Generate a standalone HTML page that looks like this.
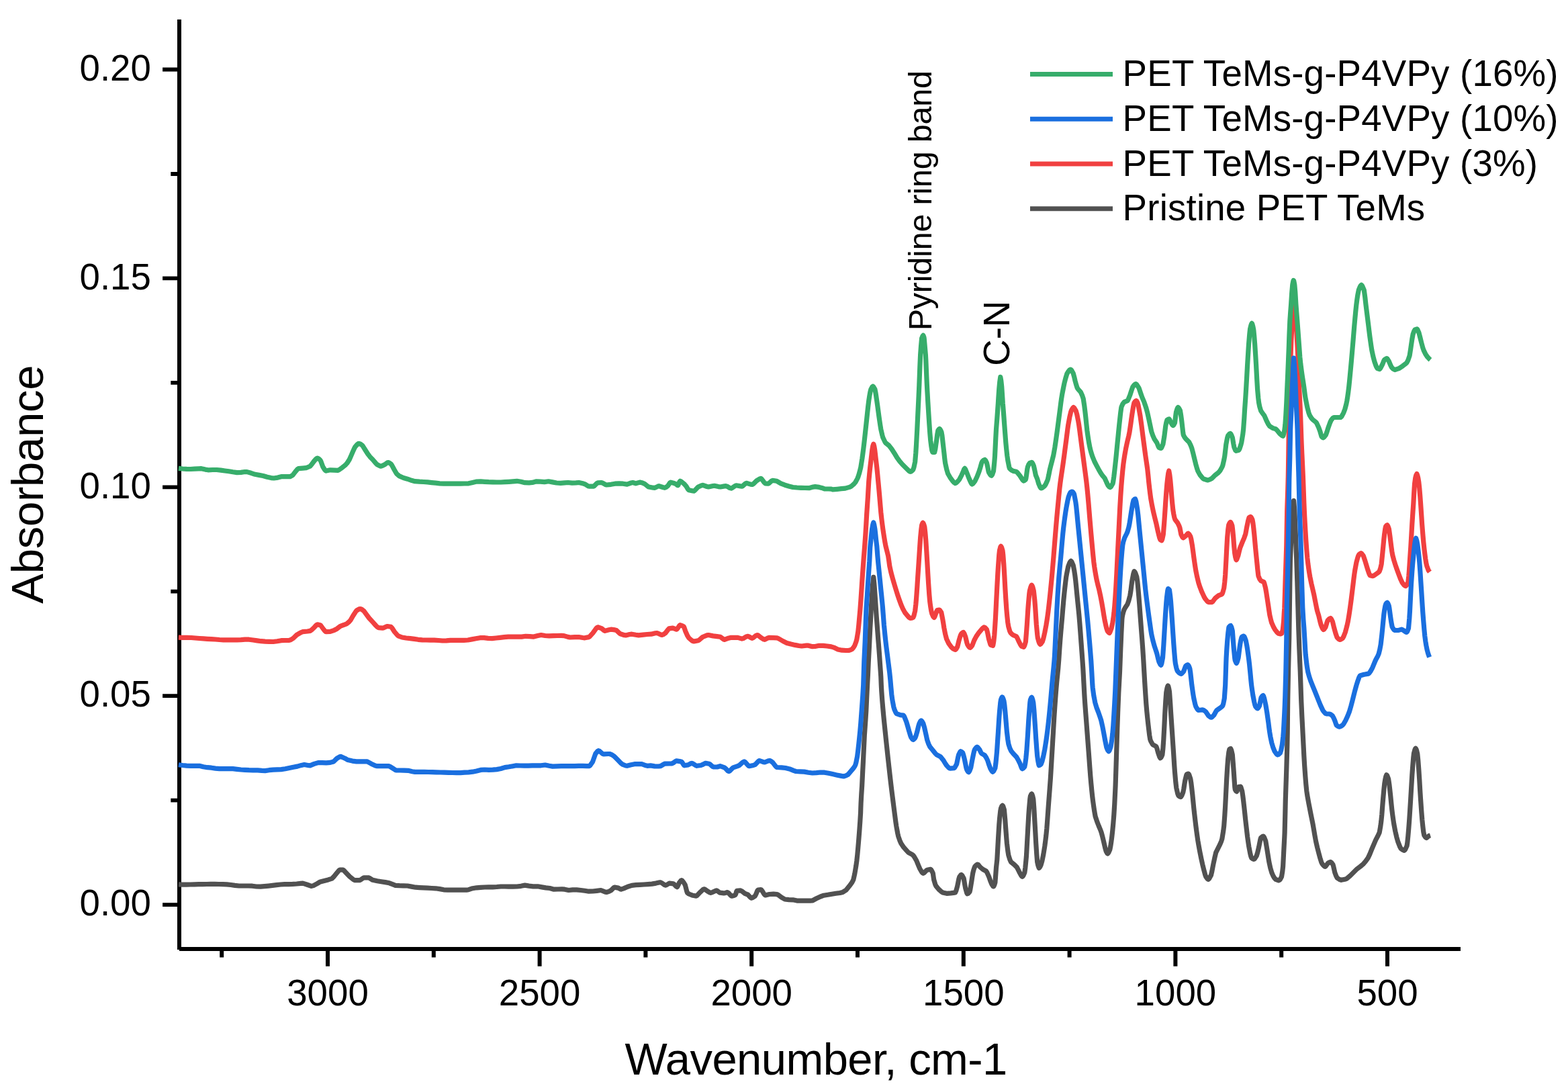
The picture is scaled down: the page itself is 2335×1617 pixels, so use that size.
<!DOCTYPE html>
<html lang="en">
<head>
<meta charset="utf-8">
<title>FTIR spectra of PET TeMs-g-P4VPy</title>
<style>
html,body{margin:0;padding:0;background:#fff;}
body{width:2335px;height:1617px;overflow:hidden;}
svg{display:block;}
text{font-family:"Liberation Sans",sans-serif;fill:#000;}
.tick{font-size:54.65px;}
.leg{font-size:54.65px;letter-spacing:0.2px;}
.axt{font-size:67px;}
.curve{fill:none;stroke-width:7.2;stroke-linejoin:round;stroke-linecap:butt;}
.ax{stroke:#000;stroke-width:6;fill:none;stroke-linecap:butt;}
</style>
</head>
<body>
<svg width="2335" height="1617" viewBox="0 0 2335 1617" role="img" aria-label="FTIR absorbance spectra of pristine and P4VPy-grafted PET track-etched membranes">
<rect width="2335" height="1617" fill="#fff"/>
<g id="axes">
<line class="ax" x1="267.0" y1="29" x2="267.0" y2="1413.9"/>
<line class="ax" x1="267.0" y1="1412.9" x2="2175" y2="1412.9"/>
<path class="ax" style="stroke-width:5.8" d="M242.1 1347.1H267.0M242.1 1036.2H267.0M242.1 725.3H267.0M242.1 414.4H267.0M242.1 103.5H267.0M254.3 1191.6H267.0M254.3 880.7H267.0M254.3 569.9H267.0M254.3 259.0H267.0"/>
<path class="ax" d="M488.0 1412.9V1438.8M803.6 1412.9V1438.8M1119.2 1412.9V1438.8M1434.8 1412.9V1438.8M1750.4 1412.9V1438.8M2066.0 1412.9V1438.8M330.2 1412.9V1425.6M645.8 1412.9V1425.6M961.4 1412.9V1425.6M1277.0 1412.9V1425.6M1592.6 1412.9V1425.6M1908.2 1412.9V1425.6"/>
</g>
<g id="curves">
<polyline class="curve" stroke="#515151" points="265.8,1316.9 271.8,1317.2 277.8,1317.1 283.8,1317.0 289.8,1316.9 295.8,1316.7 301.8,1316.6 307.8,1316.5 313.8,1316.4 319.8,1316.4 325.8,1316.5 331.8,1316.6 337.8,1316.8 343.8,1317.5 349.8,1318.4 355.8,1319.0 362.8,1319.0 369.8,1319.0 375.8,1319.2 381.8,1320.0 387.8,1320.2 393.8,1319.7 399.8,1319.1 405.8,1318.4 411.8,1317.7 417.8,1317.0 423.8,1316.7 429.8,1316.6 435.8,1316.4 441.8,1316.0 447.8,1315.3 450.9,1315.1 456.8,1317.0 462.8,1319.2 463.9,1319.4 466.8,1318.6 472.8,1315.4 476.9,1312.9 482.8,1311.4 488.8,1309.9 494.3,1308.1 496.8,1305.7 500.8,1300.8 504.8,1296.0 506.2,1295.1 510.8,1295.2 511.8,1295.8 516.0,1300.3 520.8,1305.3 525.8,1309.3 527.8,1310.4 529.0,1310.7 535.5,1310.7 536.8,1310.2 540.8,1307.3 542.0,1306.8 548.5,1306.8 549.8,1307.2 555.0,1310.3 561.8,1311.7 567.8,1312.7 573.8,1313.6 579.8,1314.8 585.8,1317.2 588.8,1318.4 594.8,1318.7 600.8,1318.8 606.8,1319.0 612.8,1320.1 618.8,1321.2 624.8,1321.6 630.8,1321.9 636.8,1322.2 642.8,1322.5 648.8,1322.8 654.8,1323.6 660.8,1324.8 666.8,1325.1 673.8,1325.1 680.8,1325.1 687.8,1325.1 694.8,1325.1 697.8,1324.7 703.8,1322.7 709.8,1321.8 715.8,1321.3 721.8,1321.0 727.8,1320.9 733.8,1320.8 739.8,1320.5 745.8,1320.0 751.8,1320.0 757.8,1320.2 763.8,1320.2 769.8,1320.0 775.8,1319.3 781.7,1318.1 787.8,1319.1 793.8,1319.8 800.8,1319.8 806.8,1320.9 812.8,1321.9 818.8,1322.5 824.8,1324.2 830.8,1324.0 836.8,1323.8 840.8,1324.2 846.8,1325.5 852.8,1324.8 858.8,1324.8 864.8,1325.5 870.8,1326.3 876.8,1327.2 882.8,1327.0 888.8,1326.3 894.8,1325.5 900.8,1327.9 903.2,1328.5 906.8,1327.4 909.8,1325.8 913.8,1321.9 915.1,1321.1 920.8,1322.1 923.8,1323.8 924.9,1324.2 928.8,1322.9 934.8,1320.3 940.8,1318.4 946.8,1317.7 952.8,1317.4 958.8,1317.0 964.8,1316.6 970.8,1316.1 976.8,1315.1 982.8,1313.8 983.8,1313.9 985.8,1314.9 989.8,1317.7 991.0,1318.1 992.8,1317.5 996.8,1315.2 1002.8,1315.9 1003.8,1316.5 1006.8,1319.7 1008.4,1320.7 1008.8,1320.3 1011.6,1314.2 1013.8,1311.4 1014.9,1310.7 1015.8,1311.2 1017.8,1313.5 1020.3,1317.7 1022.8,1327.4 1023.6,1329.4 1025.8,1331.0 1031.8,1333.3 1036.8,1334.1 1037.8,1333.6 1042.8,1328.3 1046.8,1324.6 1048.5,1323.8 1049.8,1324.2 1054.8,1327.7 1056.8,1328.9 1058.3,1329.4 1060.8,1328.6 1065.8,1326.2 1066.9,1325.9 1067.8,1326.2 1071.8,1329.2 1077.8,1329.8 1079.8,1329.6 1083.2,1328.5 1084.8,1329.5 1087.8,1332.9 1088.8,1333.7 1089.8,1334.2 1092.8,1333.5 1095.1,1332.4 1095.8,1330.8 1096.8,1327.3 1097.3,1326.4 1102.8,1325.9 1104.8,1326.9 1109.2,1330.3 1113.8,1332.2 1117.8,1336.5 1119.0,1337.2 1120.8,1336.6 1124.4,1334.2 1125.8,1331.4 1127.8,1326.4 1128.8,1325.0 1133.1,1324.6 1133.8,1325.0 1134.8,1326.2 1137.8,1331.1 1138.8,1332.3 1139.8,1332.9 1145.8,1331.5 1151.8,1331.2 1157.0,1331.6 1158.8,1332.4 1163.8,1336.1 1168.8,1339.0 1174.8,1339.6 1180.8,1339.8 1186.8,1341.1 1192.8,1341.1 1199.8,1341.1 1206.8,1341.1 1209.8,1341.0 1215.8,1337.8 1221.8,1335.0 1226.8,1333.2 1232.8,1332.3 1238.8,1331.2 1244.8,1330.3 1250.8,1329.5 1255.0,1328.4 1260.0,1325.3 1264.8,1319.3 1268.8,1313.8 1270.8,1309.9 1272.8,1301.0 1274.8,1289.2 1275.8,1282.0 1276.8,1272.9 1277.8,1261.8 1278.8,1249.9 1279.8,1237.1 1280.8,1223.1 1281.6,1210.0 1281.8,1203.7 1282.1,1195.4 1282.8,1182.8 1283.6,1170.4 1284.8,1146.3 1285.5,1132.8 1285.8,1126.0 1286.8,1105.5 1287.3,1095.2 1287.8,1088.0 1288.8,1073.8 1289.8,1058.5 1290.8,1036.4 1291.8,1016.4 1292.4,1005.4 1292.8,995.9 1293.2,986.6 1293.8,975.3 1294.5,961.6 1294.8,954.8 1295.4,942.8 1295.8,934.5 1296.4,924.0 1296.8,915.8 1297.4,905.2 1297.8,897.6 1298.2,890.2 1298.8,881.4 1299.5,871.4 1300.8,859.4 1301.8,868.9 1302.6,880.1 1303.8,897.6 1304.8,912.8 1305.8,926.1 1306.6,936.5 1307.8,952.4 1308.8,965.0 1309.5,974.1 1310.8,992.9 1311.8,1007.4 1312.3,1020.0 1312.8,1029.3 1313.8,1043.2 1314.8,1054.8 1315.8,1065.8 1316.8,1075.9 1317.8,1085.6 1318.8,1095.2 1319.8,1104.8 1320.8,1114.2 1321.8,1123.5 1322.8,1132.7 1323.8,1141.7 1324.8,1150.6 1325.8,1159.5 1326.8,1168.1 1327.8,1176.4 1328.8,1184.4 1329.8,1192.3 1330.8,1200.1 1331.8,1207.9 1332.8,1215.6 1333.8,1223.3 1334.8,1230.1 1336.8,1241.0 1337.8,1245.4 1339.8,1251.2 1341.8,1255.7 1345.8,1261.7 1350.0,1266.4 1352.8,1269.4 1358.8,1272.7 1359.8,1273.5 1361.8,1276.2 1364.8,1281.5 1367.8,1288.9 1369.8,1293.5 1372.8,1298.6 1373.8,1299.8 1374.8,1300.3 1375.8,1299.8 1379.8,1295.9 1380.8,1295.3 1385.8,1294.4 1386.8,1295.3 1387.8,1297.0 1389.3,1300.3 1390.7,1309.9 1392.8,1316.9 1393.8,1319.1 1397.8,1324.0 1401.8,1327.7 1403.8,1328.9 1409.8,1330.3 1415.8,1329.9 1421.8,1329.1 1422.6,1328.9 1423.8,1326.3 1425.6,1319.9 1426.8,1314.0 1427.8,1308.9 1428.8,1305.6 1430.8,1302.8 1431.6,1302.4 1432.8,1303.4 1435.2,1307.9 1436.8,1317.5 1437.8,1322.8 1439.8,1329.7 1440.6,1330.9 1441.8,1330.3 1444.0,1327.9 1444.8,1324.5 1445.8,1318.5 1446.8,1312.4 1447.8,1305.8 1448.8,1299.7 1449.8,1295.6 1450.8,1292.5 1451.9,1290.0 1453.8,1288.1 1454.8,1287.4 1455.9,1287.0 1456.8,1287.6 1459.8,1291.2 1463.8,1294.5 1468.5,1297.0 1469.8,1299.0 1472.5,1304.9 1474.8,1311.6 1476.8,1316.5 1478.8,1319.5 1479.5,1319.9 1479.8,1319.6 1480.8,1317.6 1481.9,1313.9 1482.8,1301.8 1483.5,1292.0 1484.8,1280.1 1485.8,1262.3 1486.5,1249.5 1487.8,1228.2 1488.5,1219.5 1489.8,1207.4 1490.5,1203.6 1491.8,1200.4 1492.8,1199.2 1493.8,1200.5 1495.4,1205.6 1496.8,1220.9 1497.4,1229.5 1498.8,1247.9 1499.4,1255.4 1500.8,1266.9 1501.8,1273.3 1503.8,1279.8 1505.4,1283.4 1510.4,1287.4 1514.4,1291.4 1517.8,1298.2 1520.8,1303.7 1521.8,1304.9 1522.4,1305.3 1522.8,1305.1 1523.8,1303.8 1525.8,1299.2 1526.8,1292.2 1527.8,1281.9 1528.4,1275.4 1528.8,1268.8 1529.8,1250.1 1530.4,1239.5 1530.8,1231.8 1531.8,1214.1 1532.4,1205.6 1533.8,1189.5 1534.4,1185.6 1535.8,1182.5 1536.4,1182.0 1536.8,1182.6 1537.8,1185.5 1538.8,1190.0 1539.8,1203.4 1540.7,1219.5 1541.8,1238.7 1542.7,1255.4 1543.8,1272.2 1544.7,1283.4 1545.8,1288.4 1546.8,1291.5 1547.3,1292.4 1547.8,1292.0 1548.8,1290.6 1550.3,1287.4 1551.8,1282.0 1553.8,1272.2 1555.8,1259.7 1556.8,1252.2 1557.8,1244.0 1558.8,1233.8 1559.8,1220.6 1560.8,1206.4 1561.3,1199.6 1561.8,1193.0 1562.8,1180.0 1563.8,1166.6 1564.3,1159.7 1564.8,1151.7 1565.8,1135.1 1566.8,1118.0 1567.3,1109.8 1567.8,1101.1 1568.8,1084.0 1569.8,1067.4 1570.3,1059.9 1570.8,1052.4 1571.8,1038.6 1572.8,1025.7 1573.8,1014.4 1574.8,1004.7 1575.8,994.5 1576.8,981.8 1577.8,966.2 1578.3,959.4 1578.8,952.7 1579.8,940.8 1580.8,929.4 1581.7,919.5 1582.8,906.0 1583.8,894.4 1584.8,884.2 1585.8,874.8 1586.8,866.1 1587.6,859.7 1588.8,852.9 1590.8,843.2 1592.8,838.1 1593.8,836.3 1594.8,835.3 1595.8,836.3 1598.2,841.7 1599.8,849.9 1600.8,856.7 1601.8,864.8 1602.8,874.9 1603.8,885.4 1604.8,895.4 1605.8,905.1 1606.8,915.2 1607.8,927.0 1608.8,940.3 1609.8,954.1 1610.8,967.6 1611.8,981.1 1612.8,995.4 1613.8,1014.1 1614.8,1033.3 1615.2,1039.9 1615.8,1048.8 1616.8,1062.1 1617.8,1074.9 1618.8,1088.2 1619.8,1101.5 1620.8,1114.8 1621.8,1128.3 1622.8,1142.1 1623.8,1155.2 1624.8,1166.6 1625.8,1177.0 1626.8,1186.5 1627.8,1194.4 1628.8,1201.6 1629.8,1208.2 1631.1,1215.5 1633.8,1223.6 1636.1,1229.5 1638.8,1235.9 1640.1,1239.5 1641.8,1245.8 1643.8,1254.2 1645.8,1262.7 1647.1,1267.4 1648.8,1270.4 1649.5,1271.0 1650.8,1269.6 1652.8,1265.0 1653.8,1260.0 1654.8,1253.4 1655.8,1245.8 1656.8,1236.7 1657.8,1225.9 1658.8,1213.4 1659.8,1197.0 1660.8,1176.1 1661.1,1169.6 1661.8,1148.3 1662.7,1119.7 1663.8,1084.1 1664.3,1069.8 1664.8,1055.9 1665.8,1031.5 1666.8,1012.7 1667.5,1000.0 1667.8,992.0 1668.8,965.9 1669.1,959.4 1669.8,942.5 1670.8,922.7 1671.1,919.5 1671.8,915.5 1672.8,911.4 1674.1,907.5 1675.8,904.5 1679.0,899.6 1680.8,894.4 1682.8,886.6 1683.8,880.6 1684.8,872.6 1685.8,865.1 1687.8,854.3 1689.0,850.7 1689.8,851.4 1690.8,853.3 1692.8,859.0 1693.8,865.5 1694.8,875.9 1695.8,887.5 1696.8,899.8 1697.8,913.4 1698.8,927.1 1699.8,940.2 1700.8,953.3 1701.8,966.9 1702.8,982.8 1703.8,1000.2 1704.8,1017.2 1705.8,1033.1 1706.8,1047.7 1707.8,1059.2 1708.8,1069.2 1709.8,1078.4 1710.8,1086.9 1711.8,1095.0 1712.8,1101.1 1713.8,1103.8 1715.8,1107.3 1716.9,1108.8 1720.8,1110.9 1721.9,1111.8 1722.8,1114.0 1724.8,1121.4 1726.8,1127.0 1727.9,1128.7 1728.8,1128.0 1729.8,1126.4 1730.9,1123.7 1731.8,1115.4 1732.8,1101.3 1733.8,1082.5 1734.8,1061.7 1735.8,1044.5 1736.8,1030.8 1737.8,1025.3 1738.8,1021.8 1739.3,1021.0 1739.8,1021.9 1740.8,1026.1 1741.5,1029.9 1742.8,1048.6 1743.5,1059.9 1744.8,1079.6 1745.5,1089.8 1746.8,1109.6 1747.5,1119.7 1748.8,1140.3 1749.5,1149.7 1750.8,1164.5 1751.8,1173.2 1753.8,1181.9 1754.9,1184.6 1756.8,1186.1 1758.3,1186.6 1758.8,1186.2 1759.8,1184.6 1761.8,1179.6 1762.8,1174.6 1763.8,1167.9 1764.8,1161.8 1766.8,1154.0 1767.4,1152.7 1769.8,1152.1 1770.8,1153.5 1772.8,1159.6 1773.8,1165.9 1774.8,1174.3 1775.8,1183.2 1776.8,1193.4 1777.8,1203.5 1778.8,1212.5 1779.8,1221.2 1780.8,1229.5 1781.8,1237.2 1782.8,1244.6 1783.8,1251.5 1784.8,1257.4 1786.8,1268.3 1788.8,1278.2 1790.8,1287.3 1792.8,1295.4 1794.8,1302.8 1795.8,1305.4 1797.8,1308.2 1798.8,1309.1 1799.4,1309.3 1800.8,1308.0 1803.4,1303.3 1804.8,1297.4 1806.7,1287.4 1808.8,1277.4 1810.7,1269.4 1813.8,1263.1 1816.8,1257.1 1818.8,1252.3 1819.8,1249.1 1821.8,1236.9 1822.7,1229.5 1823.8,1214.5 1824.7,1199.6 1825.8,1177.6 1826.7,1159.7 1827.8,1141.7 1828.7,1129.7 1829.8,1120.3 1830.8,1115.7 1831.8,1115.0 1832.7,1114.7 1833.8,1117.2 1835.3,1123.7 1836.8,1143.0 1837.3,1149.7 1837.8,1157.3 1838.8,1171.7 1839.3,1175.6 1840.8,1178.0 1841.7,1178.6 1842.8,1176.3 1843.8,1173.3 1844.8,1171.6 1847.3,1171.2 1847.8,1171.9 1849.8,1178.4 1850.8,1185.2 1851.8,1193.5 1852.8,1202.3 1853.8,1211.7 1854.6,1219.5 1855.8,1229.9 1856.8,1238.6 1857.6,1245.5 1858.8,1253.9 1859.8,1260.6 1861.8,1271.1 1862.8,1275.2 1863.8,1277.6 1865.8,1278.9 1867.2,1279.4 1867.8,1279.1 1868.8,1278.1 1871.2,1274.4 1872.8,1269.1 1874.6,1261.4 1875.8,1255.2 1876.8,1250.1 1877.6,1247.5 1879.8,1245.6 1881.2,1245.1 1881.8,1245.6 1882.8,1247.2 1884.8,1252.4 1886.8,1264.5 1887.8,1270.8 1888.8,1277.1 1889.8,1283.3 1891.8,1292.4 1893.8,1299.3 1895.8,1303.9 1897.8,1307.3 1899.8,1309.4 1903.8,1310.8 1904.8,1310.8 1905.8,1310.0 1906.8,1308.7 1908.5,1305.3 1909.8,1297.3 1910.6,1290.0 1911.8,1266.0 1912.8,1246.9 1913.1,1240.4 1913.8,1212.3 1914.3,1190.3 1914.8,1175.5 1915.8,1145.6 1916.8,1110.3 1917.2,1090.0 1917.6,1050.4 1917.8,1036.5 1918.5,1000.3 1918.8,986.8 1919.7,950.1 1920.4,900.0 1920.6,885.4 1920.8,868.1 1921.4,835.3 1921.8,825.3 1922.8,801.7 1923.8,783.8 1924.8,768.3 1925.4,760.1 1925.8,753.9 1926.6,745.5 1927.8,759.1 1928.6,778.9 1929.4,797.7 1929.8,809.4 1930.3,821.5 1930.8,833.5 1931.8,864.8 1932.4,885.4 1932.8,900.0 1933.8,935.8 1934.3,950.1 1934.8,964.3 1935.8,988.5 1936.3,1000.3 1936.8,1015.6 1937.8,1044.7 1938.8,1066.6 1939.8,1085.7 1940.8,1105.4 1941.8,1125.1 1942.7,1140.1 1943.8,1155.6 1944.8,1167.7 1945.8,1177.7 1946.8,1184.5 1948.8,1195.6 1950.2,1202.8 1951.8,1211.0 1953.8,1220.8 1955.2,1227.8 1956.8,1237.1 1957.8,1243.1 1959.6,1252.9 1961.8,1262.4 1963.8,1270.2 1965.8,1277.5 1967.8,1284.0 1968.8,1286.0 1970.8,1288.5 1972.8,1290.2 1973.4,1290.4 1973.8,1290.1 1974.8,1289.0 1977.4,1285.4 1979.8,1283.9 1981.4,1283.4 1982.8,1284.4 1985.0,1287.4 1985.8,1290.4 1987.8,1299.3 1989.8,1304.6 1991.3,1307.3 1994.8,1309.5 1997.3,1310.3 2003.8,1308.9 2005.8,1308.1 2010.8,1303.8 2015.8,1298.8 2020.8,1293.8 2025.8,1290.1 2029.8,1286.8 2033.8,1282.2 2037.2,1277.4 2039.8,1271.9 2042.8,1264.4 2045.8,1257.3 2048.8,1250.4 2051.8,1244.8 2054.2,1239.5 2055.8,1230.4 2056.8,1222.8 2057.8,1212.8 2058.8,1199.6 2059.6,1189.6 2060.8,1176.2 2061.8,1166.6 2062.8,1160.5 2063.8,1156.1 2064.8,1153.7 2065.8,1155.0 2067.6,1159.7 2068.8,1167.7 2069.8,1176.4 2070.8,1185.7 2071.8,1196.1 2072.8,1205.6 2073.8,1213.6 2074.8,1220.8 2075.8,1227.3 2077.8,1237.7 2079.8,1246.4 2081.8,1253.4 2084.8,1261.1 2086.1,1263.4 2088.8,1265.5 2091.1,1266.4 2091.8,1265.9 2092.8,1264.6 2095.1,1259.4 2095.8,1254.9 2096.8,1245.0 2097.8,1233.2 2098.8,1219.8 2099.8,1204.2 2100.7,1189.6 2101.8,1170.9 2102.8,1154.2 2103.8,1140.2 2104.8,1127.8 2105.5,1121.7 2106.8,1116.8 2107.8,1114.5 2108.1,1114.2 2108.8,1115.2 2109.8,1118.2 2110.8,1122.5 2111.8,1132.7 2112.8,1146.0 2113.8,1161.2 2114.8,1178.6 2115.5,1189.6 2116.8,1208.2 2117.8,1220.6 2118.8,1230.3 2119.8,1238.7 2120.8,1243.7 2122.8,1246.6 2124.1,1247.5 2124.8,1247.1 2128.0,1244.5 2130.0,1243.9"/>
<polyline class="curve" stroke="#F14040" points="265.8,949.1 271.8,949.4 278.8,949.4 284.8,949.5 290.8,950.0 296.8,950.5 302.8,950.9 308.8,951.3 314.8,951.6 320.8,952.0 326.8,952.5 332.8,952.8 338.8,952.9 345.8,952.9 352.8,952.9 358.8,952.7 364.8,952.2 370.8,952.2 376.8,953.0 382.8,953.9 388.8,954.7 394.8,955.1 400.8,955.3 406.8,955.5 412.8,954.7 418.8,953.7 424.8,953.5 430.8,953.3 432.8,952.8 436.8,950.3 441.8,945.4 447.8,941.8 450.9,940.7 457.8,940.0 461.8,939.4 463.8,938.1 467.8,934.4 470.8,931.0 471.8,930.2 472.8,929.9 476.9,930.7 477.8,931.5 481.8,937.0 483.8,939.4 484.8,940.3 485.8,940.7 491.8,940.3 497.8,938.3 501.8,936.2 506.8,932.3 512.8,930.2 516.0,929.0 519.8,925.9 521.8,923.7 525.8,916.8 529.8,910.6 531.1,909.0 534.8,906.9 536.8,906.5 538.8,907.4 542.0,909.9 545.8,915.1 549.8,920.5 554.8,925.9 559.8,931.5 561.8,933.5 563.8,934.7 569.8,935.1 570.8,935.0 575.8,932.7 576.8,932.5 582.1,933.3 583.8,935.0 587.5,940.7 591.8,945.8 593.0,946.8 598.8,949.0 604.8,950.0 610.8,950.6 616.8,951.4 622.8,952.3 628.8,952.9 634.8,953.0 640.8,953.1 646.8,953.2 652.8,953.5 658.8,954.0 664.8,953.9 670.8,953.4 676.8,953.3 683.8,953.3 690.8,953.3 696.8,953.0 702.8,951.9 708.8,950.8 714.8,949.7 720.8,949.6 726.8,950.4 732.8,950.6 738.8,950.0 744.8,949.3 750.8,948.7 756.8,948.2 762.8,948.1 769.8,948.1 776.8,948.1 782.8,947.3 788.8,947.6 794.8,948.1 800.8,946.6 805.8,945.5 811.8,946.5 817.8,946.8 823.8,946.6 829.8,946.5 835.8,946.4 839.8,946.6 845.8,948.4 848.9,949.0 855.8,948.7 861.8,948.5 867.8,949.5 870.8,949.8 876.8,948.6 877.8,948.1 882.8,942.6 886.8,937.1 888.8,934.6 890.2,933.8 895.8,935.6 899.8,938.9 901.0,939.4 906.8,937.8 909.8,937.2 915.8,937.9 917.8,938.4 922.8,943.1 923.8,943.8 929.8,945.7 931.8,945.9 937.8,944.5 940.8,944.2 946.8,945.3 950.9,945.9 957.8,945.1 963.8,944.5 969.8,944.2 975.8,942.8 978.0,942.5 980.8,943.4 984.8,945.3 985.8,945.5 987.8,944.7 991.0,942.5 994.8,937.5 996.4,935.9 1001.9,935.1 1007.3,937.2 1007.8,937.0 1008.8,935.9 1011.8,931.4 1012.8,930.7 1015.8,931.6 1018.1,932.9 1018.8,934.1 1020.8,940.0 1023.8,946.7 1025.8,949.9 1029.8,953.4 1031.8,954.6 1033.3,955.0 1039.8,953.7 1041.8,952.4 1046.3,948.5 1052.8,945.9 1055.0,945.5 1061.8,946.9 1067.8,947.6 1072.8,948.3 1077.8,952.0 1078.9,952.4 1084.8,950.2 1087.8,949.4 1094.8,949.4 1098.8,949.4 1104.8,951.1 1106.8,950.6 1111.8,947.7 1113.8,947.3 1115.8,948.1 1118.8,949.9 1120.1,950.3 1121.8,949.5 1125.8,946.3 1127.8,945.5 1128.8,945.9 1133.8,949.8 1136.8,951.8 1138.8,952.4 1143.8,949.8 1145.0,949.4 1151.8,949.6 1157.0,949.8 1159.8,951.0 1165.8,954.5 1171.8,957.5 1177.8,959.1 1183.8,960.4 1189.8,961.5 1193.8,962.0 1200.8,961.2 1203.8,961.2 1209.8,962.7 1213.8,962.5 1219.8,961.3 1225.8,961.3 1231.8,962.0 1237.8,962.9 1241.8,964.1 1247.8,966.9 1253.8,968.2 1259.8,968.5 1263.8,968.5 1266.8,967.6 1268.8,966.6 1270.8,964.3 1272.8,961.1 1274.8,955.8 1275.8,952.3 1277.8,940.4 1278.8,930.9 1279.4,924.0 1280.8,908.6 1281.8,895.2 1282.8,880.6 1283.8,865.1 1284.5,855.1 1285.8,837.1 1286.3,830.0 1286.8,824.0 1287.8,811.0 1288.8,797.3 1289.8,780.9 1290.7,765.3 1291.8,748.9 1292.4,740.3 1292.8,732.7 1293.8,716.0 1294.8,705.2 1295.7,696.4 1296.8,687.1 1297.6,680.1 1298.8,669.8 1299.8,664.1 1300.8,661.1 1301.8,664.6 1302.8,670.6 1303.8,679.4 1304.8,687.9 1305.8,696.4 1306.8,706.5 1307.6,715.2 1308.8,727.8 1309.8,739.1 1310.8,751.1 1311.8,762.9 1312.8,772.1 1313.8,780.2 1314.8,787.8 1315.8,794.6 1316.8,800.9 1317.8,806.9 1318.9,812.9 1320.8,820.3 1322.7,828.0 1323.8,835.5 1324.8,842.7 1326.8,852.0 1328.8,859.5 1330.8,866.6 1332.8,873.3 1334.8,879.8 1336.8,886.1 1338.8,892.0 1341.8,900.3 1344.8,907.1 1347.8,912.4 1351.8,917.3 1353.8,919.4 1354.8,920.1 1355.8,920.5 1358.8,919.9 1359.8,919.4 1360.8,917.3 1362.7,909.5 1363.8,900.1 1364.7,889.6 1365.8,874.0 1366.7,859.7 1367.8,843.5 1368.7,829.7 1369.8,812.8 1370.7,799.8 1371.8,788.5 1372.7,781.8 1373.8,779.0 1374.3,778.4 1374.8,778.9 1375.8,781.0 1376.8,784.4 1377.8,793.3 1378.7,803.8 1379.8,820.7 1380.7,835.7 1381.8,854.9 1382.7,869.6 1383.8,885.3 1384.7,895.6 1385.8,903.7 1386.8,909.7 1387.8,913.8 1389.8,918.2 1391.1,919.5 1391.8,918.5 1394.8,910.3 1395.8,908.5 1398.8,908.0 1399.8,908.8 1401.8,912.0 1403.8,922.2 1404.8,928.1 1405.8,934.6 1407.8,944.7 1409.6,951.5 1412.8,958.1 1416.8,963.6 1418.8,965.5 1421.8,967.2 1422.8,967.3 1423.8,966.4 1425.8,962.9 1427.8,954.6 1429.8,947.7 1430.8,945.0 1431.8,943.3 1433.8,941.7 1434.6,941.5 1435.8,943.1 1437.8,948.2 1439.8,956.9 1440.8,959.9 1442.8,963.0 1443.8,964.0 1444.6,964.4 1445.8,963.6 1447.8,961.0 1450.8,953.2 1453.8,947.6 1457.8,941.8 1461.8,937.2 1463.8,935.0 1464.8,934.2 1465.5,933.9 1466.8,934.5 1469.5,937.5 1470.8,942.8 1472.5,951.5 1474.8,959.2 1475.5,960.4 1478.5,961.4 1478.8,960.6 1479.8,954.8 1480.8,945.8 1481.8,930.8 1482.5,919.5 1482.8,913.4 1483.8,893.0 1484.5,879.6 1484.8,873.3 1485.8,854.7 1486.5,843.7 1487.8,825.8 1488.5,819.7 1489.8,814.5 1490.5,813.4 1490.8,813.7 1491.8,815.7 1493.0,819.7 1493.8,826.7 1494.8,840.3 1495.8,856.7 1496.8,875.5 1497.8,891.8 1498.8,906.5 1499.8,917.7 1500.8,927.0 1501.8,933.1 1503.8,940.0 1504.8,942.0 1506.8,944.2 1508.8,945.7 1513.4,947.5 1514.8,949.7 1517.4,955.4 1519.8,960.2 1521.4,962.4 1524.4,963.4 1524.8,963.0 1525.8,960.9 1527.4,955.4 1528.8,937.8 1529.4,929.5 1529.8,923.1 1530.8,907.5 1531.4,899.6 1532.8,883.9 1533.4,879.6 1534.8,874.3 1535.8,871.9 1536.4,871.2 1536.8,871.7 1537.8,874.0 1539.3,879.6 1540.8,893.3 1541.3,899.6 1541.8,906.0 1542.8,921.8 1543.3,929.5 1544.8,945.4 1545.3,949.5 1546.8,955.0 1547.8,957.7 1548.9,959.4 1549.8,958.9 1552.3,955.4 1553.8,950.7 1555.8,941.8 1557.8,931.4 1558.8,925.4 1559.8,918.9 1560.8,911.6 1561.8,903.1 1562.8,894.1 1563.8,884.8 1564.8,874.9 1565.8,864.8 1566.8,854.0 1567.8,842.5 1568.8,830.7 1569.8,818.3 1570.8,805.7 1571.8,793.4 1572.8,781.4 1573.8,770.0 1574.8,759.1 1575.7,749.9 1576.8,738.1 1577.8,728.2 1578.8,719.8 1579.8,712.6 1580.8,705.8 1581.8,699.3 1582.8,692.5 1583.8,685.3 1584.8,677.9 1585.8,670.3 1586.8,662.8 1587.8,655.2 1588.8,647.2 1589.8,639.4 1590.8,632.3 1592.8,621.3 1594.8,612.8 1595.8,610.4 1597.8,607.2 1598.6,606.5 1599.8,607.5 1602.2,611.5 1603.8,617.3 1605.8,627.4 1606.8,633.4 1607.8,640.7 1608.8,648.5 1609.8,656.4 1610.8,664.0 1611.8,671.5 1612.8,679.0 1613.8,686.5 1614.8,694.0 1615.8,701.4 1616.8,708.9 1617.8,716.8 1618.8,725.9 1619.8,736.0 1620.8,747.1 1621.8,759.3 1622.8,771.5 1623.8,783.2 1624.8,794.7 1625.8,805.9 1626.8,816.6 1627.8,827.1 1628.8,836.7 1629.8,844.2 1630.8,850.6 1632.8,861.9 1634.8,870.5 1636.8,878.2 1638.8,887.6 1640.8,897.8 1642.8,909.7 1643.8,916.0 1645.1,923.5 1646.8,931.3 1647.8,935.5 1649.1,939.5 1650.8,941.6 1652.1,942.5 1652.8,941.6 1655.1,935.5 1656.8,927.4 1657.8,921.4 1658.8,913.3 1659.8,902.8 1660.8,889.8 1661.8,874.2 1662.8,855.9 1663.8,835.3 1664.8,815.2 1665.8,795.2 1666.8,774.9 1667.8,754.8 1668.8,738.1 1669.8,723.4 1670.8,711.5 1671.8,700.9 1672.8,691.5 1673.8,684.2 1674.8,677.9 1676.8,666.7 1678.8,657.6 1680.8,649.3 1682.0,643.5 1683.8,631.4 1684.8,624.0 1685.8,617.0 1686.8,610.8 1687.8,604.8 1689.0,599.6 1690.8,597.3 1692.0,596.6 1692.8,597.3 1694.0,599.6 1694.8,602.4 1696.8,612.7 1698.0,619.5 1699.8,632.5 1700.8,640.4 1701.8,648.1 1702.8,655.7 1703.8,663.3 1704.8,670.8 1705.8,678.2 1706.8,685.1 1707.8,691.6 1708.8,698.8 1709.8,708.2 1710.8,718.5 1711.8,727.3 1712.8,735.5 1713.8,742.9 1715.8,753.8 1717.8,763.2 1719.8,771.4 1721.8,779.3 1723.8,788.7 1725.8,797.2 1726.8,801.0 1727.9,803.8 1729.9,804.8 1730.8,802.8 1732.3,795.8 1733.8,777.1 1734.3,769.8 1734.8,762.5 1735.8,747.1 1736.3,739.9 1736.8,733.4 1737.8,721.0 1738.8,711.9 1739.8,704.6 1740.7,701.0 1741.8,706.8 1742.8,715.3 1743.8,726.5 1744.8,739.0 1745.8,749.8 1746.8,759.3 1747.8,765.4 1748.8,770.4 1749.8,773.5 1753.8,778.7 1755.8,782.9 1756.9,785.8 1758.8,795.6 1760.8,799.8 1761.8,800.8 1762.8,800.4 1765.8,797.8 1768.8,794.5 1769.4,794.2 1770.8,795.4 1772.8,798.8 1773.8,802.7 1775.4,811.8 1776.8,822.0 1777.8,829.7 1778.8,836.7 1779.8,843.5 1780.8,849.7 1782.8,859.4 1784.8,867.6 1786.8,873.8 1789.8,881.6 1792.8,888.1 1794.8,891.6 1797.8,895.3 1798.8,896.1 1799.8,896.6 1804.8,896.6 1805.8,895.9 1809.7,890.6 1814.7,886.6 1818.8,885.1 1819.8,884.5 1820.8,882.4 1822.7,875.6 1823.8,866.3 1824.7,855.7 1825.8,835.6 1826.8,815.8 1827.7,799.8 1828.8,788.1 1829.7,781.8 1830.8,779.3 1831.8,777.8 1832.3,777.4 1832.8,777.9 1833.8,779.8 1834.9,782.8 1835.8,790.3 1836.7,799.8 1837.8,814.2 1838.7,823.7 1839.8,829.8 1840.8,833.3 1841.1,833.7 1841.8,832.7 1843.8,827.3 1845.8,819.0 1846.8,815.3 1849.8,807.8 1852.8,800.8 1854.8,795.1 1856.8,784.2 1858.8,774.7 1860.0,770.8 1861.8,769.6 1862.2,769.4 1862.8,769.8 1863.8,771.3 1865.0,773.8 1865.8,778.2 1866.8,786.3 1867.8,795.7 1868.8,806.8 1869.6,815.7 1870.8,827.9 1871.8,837.7 1872.8,847.8 1873.8,856.5 1874.0,857.7 1875.8,862.1 1877.8,864.8 1882.0,866.6 1882.8,868.6 1884.6,875.6 1885.8,882.7 1886.8,889.2 1887.8,895.7 1888.8,902.4 1889.8,909.2 1890.8,915.8 1892.8,924.3 1893.8,927.6 1896.8,934.2 1898.8,937.6 1901.8,941.5 1903.8,943.2 1906.9,943.9 1908.6,943.2 1909.8,939.8 1910.3,937.6 1911.6,925.1 1912.3,912.5 1912.8,905.4 1913.8,873.9 1914.2,860.4 1914.8,843.3 1915.8,811.8 1916.7,760.1 1917.8,728.4 1918.3,710.0 1918.8,678.0 1919.3,640.0 1919.8,614.8 1920.6,580.0 1920.8,572.2 1921.8,536.3 1922.0,530.0 1922.8,509.2 1923.2,500.0 1923.8,488.3 1924.6,475.0 1925.8,461.4 1926.0,460.0 1926.8,457.2 1927.2,456.5 1927.8,457.7 1928.4,460.0 1929.8,475.0 1930.8,492.5 1931.2,500.0 1931.8,510.9 1932.8,530.0 1933.8,554.9 1934.8,580.0 1935.8,599.7 1936.3,610.0 1936.8,623.2 1937.8,652.0 1938.1,660.0 1938.8,675.7 1939.8,696.6 1940.4,710.0 1940.8,720.4 1941.8,748.2 1942.3,760.1 1942.8,770.4 1943.8,788.6 1944.8,804.8 1945.8,818.6 1946.8,830.3 1947.8,839.3 1948.8,846.5 1949.8,853.0 1950.8,858.9 1952.8,868.7 1954.8,877.2 1956.7,885.4 1958.8,896.1 1960.8,906.1 1961.8,910.3 1963.8,916.8 1965.8,925.3 1967.1,930.1 1968.8,934.4 1969.8,936.4 1970.9,937.6 1971.8,937.0 1974.0,933.8 1975.8,927.7 1977.1,923.8 1979.8,921.2 1981.4,920.5 1981.8,920.8 1982.8,922.2 1984.4,925.5 1986.8,935.3 1988.8,942.5 1990.8,948.4 1991.8,949.9 1993.8,951.7 1995.3,952.4 1996.8,952.0 1999.3,950.5 2000.8,947.9 2003.3,941.5 2005.8,932.3 2007.3,925.5 2008.8,916.7 2009.8,910.0 2010.8,903.1 2011.8,895.8 2012.8,887.8 2013.8,879.6 2014.8,871.5 2015.8,863.1 2016.8,855.2 2017.8,848.6 2019.8,837.8 2021.8,830.4 2022.8,827.5 2023.8,825.6 2025.8,824.1 2026.9,823.7 2027.8,824.3 2030.3,827.7 2032.8,835.0 2034.8,841.6 2036.8,848.3 2038.8,854.0 2039.8,856.1 2040.2,856.7 2044.2,857.7 2045.8,857.1 2050.8,853.6 2052.8,852.1 2054.2,850.7 2055.8,846.0 2057.2,839.7 2058.8,823.9 2059.8,813.5 2060.8,803.0 2061.6,795.8 2062.8,787.4 2063.6,783.8 2064.8,782.4 2065.8,781.8 2066.8,783.3 2068.4,787.8 2069.8,797.8 2070.8,805.8 2071.8,813.6 2072.8,821.0 2073.8,826.8 2075.8,834.2 2077.8,840.6 2079.8,846.5 2082.8,854.8 2085.8,862.6 2088.1,867.6 2090.8,871.0 2091.8,871.9 2093.1,872.6 2093.8,872.2 2094.8,871.2 2096.8,867.2 2097.8,857.8 2098.3,851.7 2098.8,844.5 2099.8,829.6 2100.8,814.7 2101.8,797.6 2102.8,780.2 2103.8,764.9 2104.8,750.2 2105.8,732.0 2106.6,720.1 2107.8,711.5 2108.8,707.7 2109.9,705.5 2110.8,707.8 2111.8,711.9 2112.8,717.9 2113.8,727.1 2114.8,739.4 2115.6,750.2 2116.8,768.0 2117.6,780.2 2118.8,795.3 2119.8,806.9 2120.8,816.3 2121.8,824.7 2122.8,832.3 2123.8,838.6 2124.8,842.7 2127.3,849.4 2129.0,851.7"/>
<polyline class="curve" stroke="#1A6FDF" points="265.8,1138.7 271.8,1139.5 277.8,1140.1 283.8,1140.3 290.8,1140.3 296.9,1140.3 302.8,1141.8 308.8,1142.7 314.8,1143.2 320.8,1144.1 326.8,1144.6 333.8,1144.6 340.8,1144.6 346.8,1144.6 352.8,1145.3 358.8,1146.0 364.8,1146.4 370.8,1146.7 376.8,1146.8 383.6,1146.8 389.8,1147.4 394.8,1147.6 400.8,1146.7 406.8,1146.1 412.8,1145.9 418.8,1145.6 424.8,1144.8 430.8,1143.5 436.8,1142.2 442.8,1141.1 448.8,1139.4 453.1,1138.5 459.8,1139.7 461.8,1139.8 467.8,1137.4 473.8,1135.6 479.8,1135.7 485.8,1135.9 491.8,1135.4 496.8,1134.0 501.8,1129.1 505.8,1126.8 507.3,1126.4 513.8,1129.2 518.1,1131.6 524.8,1133.1 530.8,1133.8 536.8,1133.8 543.8,1133.8 546.8,1133.9 552.8,1137.2 558.8,1140.0 561.8,1140.7 568.8,1140.7 575.8,1140.7 578.9,1140.7 580.8,1141.4 586.8,1145.1 588.8,1146.5 589.8,1146.8 595.8,1147.0 601.8,1147.1 607.8,1147.3 613.8,1148.7 617.9,1149.4 624.8,1149.4 631.8,1149.4 637.8,1149.5 643.8,1149.7 649.8,1149.9 655.8,1150.0 661.8,1150.2 667.8,1150.3 673.8,1150.5 679.8,1150.7 685.8,1150.6 691.8,1150.2 697.8,1149.8 703.8,1149.2 709.8,1147.9 715.8,1146.4 721.8,1146.0 727.8,1146.3 733.8,1146.2 739.8,1145.6 745.8,1144.5 751.8,1142.6 757.8,1141.8 763.8,1140.7 768.8,1139.8 774.8,1140.0 780.8,1140.2 786.8,1140.2 792.8,1139.9 798.8,1139.8 805.6,1139.8 811.8,1139.0 817.8,1140.2 822.9,1141.1 829.8,1140.9 835.8,1140.7 842.8,1140.7 849.8,1140.7 855.8,1140.6 861.8,1140.4 867.8,1140.3 873.8,1140.6 877.1,1140.7 877.8,1140.4 878.8,1139.6 882.6,1134.2 884.8,1127.8 886.9,1122.1 889.8,1118.6 891.2,1117.7 892.8,1118.4 896.8,1121.9 897.8,1122.6 898.8,1122.9 905.8,1122.5 907.8,1122.5 910.8,1123.6 914.8,1126.2 919.8,1131.3 924.8,1136.4 927.0,1138.1 931.8,1140.0 933.8,1140.3 939.8,1138.7 944.8,1137.7 951.8,1137.7 955.8,1137.7 961.8,1139.8 963.9,1140.3 968.8,1139.9 974.8,1140.9 980.8,1141.0 983.8,1140.6 988.8,1137.6 989.9,1137.2 996.8,1137.0 1000.8,1136.8 1002.8,1135.8 1005.8,1133.5 1007.3,1132.9 1013.8,1133.9 1014.9,1134.2 1015.8,1135.1 1017.8,1138.4 1018.8,1139.6 1019.2,1139.8 1024.8,1138.9 1028.8,1136.8 1030.1,1136.4 1031.8,1137.0 1035.8,1139.6 1037.8,1140.3 1043.8,1139.5 1045.8,1138.7 1049.8,1136.6 1050.8,1136.4 1056.1,1137.2 1057.8,1138.3 1060.8,1141.1 1062.8,1142.0 1068.0,1142.0 1072.4,1140.7 1078.8,1142.9 1080.8,1144.5 1083.8,1147.7 1085.4,1148.5 1086.8,1147.8 1090.8,1143.7 1091.9,1142.9 1097.8,1140.9 1100.8,1139.7 1105.8,1135.1 1108.2,1133.8 1109.8,1134.8 1113.8,1139.4 1114.8,1140.3 1115.8,1140.7 1121.8,1139.5 1124.8,1138.3 1129.8,1133.1 1130.9,1132.5 1136.8,1134.7 1138.8,1135.0 1144.8,1132.7 1146.1,1132.5 1147.8,1133.1 1150.8,1135.4 1154.8,1140.6 1155.8,1141.7 1157.0,1142.5 1163.8,1142.8 1169.8,1143.5 1175.8,1144.9 1181.8,1147.4 1185.2,1148.5 1191.8,1148.8 1197.8,1149.1 1203.8,1150.2 1209.8,1151.0 1215.8,1150.7 1221.8,1150.0 1227.8,1150.2 1233.8,1151.3 1239.8,1152.6 1245.8,1153.9 1251.8,1155.1 1256.3,1156.0 1259.8,1154.9 1262.8,1153.3 1266.8,1148.7 1270.8,1143.9 1272.8,1141.0 1273.8,1139.0 1274.8,1135.5 1276.6,1126.5 1277.8,1116.9 1278.8,1107.9 1279.8,1098.5 1280.8,1088.4 1281.8,1076.8 1282.8,1063.3 1283.8,1049.4 1284.8,1035.6 1285.7,1020.0 1286.8,985.2 1287.8,963.9 1288.2,955.3 1288.8,938.8 1289.1,930.3 1289.8,911.9 1290.1,905.2 1290.8,894.3 1291.4,886.4 1291.8,879.7 1292.6,867.6 1293.8,849.7 1294.8,835.2 1295.7,815.4 1296.8,804.7 1297.8,795.0 1298.6,787.9 1299.8,781.0 1300.8,777.9 1301.8,781.5 1302.9,787.9 1303.8,796.0 1304.5,802.9 1305.8,813.4 1306.8,827.0 1307.8,838.2 1308.8,847.8 1309.8,857.8 1310.8,867.6 1311.8,877.8 1312.7,886.4 1313.8,897.5 1314.5,905.2 1315.8,922.2 1316.4,930.3 1317.8,944.7 1318.8,954.2 1319.8,962.7 1320.8,970.5 1321.8,978.3 1322.8,986.2 1323.8,994.0 1324.8,1002.1 1325.8,1011.8 1326.8,1023.3 1327.8,1034.2 1328.8,1041.9 1330.8,1052.5 1331.8,1056.0 1333.8,1060.6 1335.2,1062.6 1340.8,1064.6 1345.2,1065.1 1345.8,1065.7 1346.8,1067.4 1349.8,1074.9 1351.8,1081.6 1353.8,1088.8 1355.8,1095.4 1356.8,1097.9 1358.8,1100.7 1359.8,1101.4 1360.8,1100.8 1362.8,1098.7 1363.8,1096.2 1365.7,1089.8 1367.8,1081.0 1368.8,1077.7 1370.8,1073.7 1371.8,1072.9 1372.8,1073.7 1374.8,1077.1 1376.8,1084.1 1378.8,1093.0 1380.7,1101.8 1382.8,1107.7 1384.8,1111.9 1388.8,1116.7 1392.8,1121.8 1394.8,1123.8 1400.6,1126.7 1404.6,1131.7 1407.8,1137.0 1409.8,1139.9 1412.8,1143.1 1413.8,1143.8 1414.8,1144.1 1420.8,1143.6 1421.8,1142.7 1424.6,1137.7 1426.8,1127.0 1427.8,1123.3 1429.8,1119.4 1430.6,1118.7 1431.8,1119.2 1433.6,1120.7 1434.8,1124.3 1436.6,1131.7 1437.8,1137.8 1438.8,1142.9 1439.8,1146.1 1440.8,1147.9 1441.8,1149.2 1442.6,1149.7 1443.8,1148.0 1445.8,1142.7 1447.8,1131.7 1449.8,1122.0 1450.8,1117.9 1451.8,1115.4 1453.8,1112.9 1455.1,1112.2 1455.8,1112.5 1458.8,1116.2 1460.8,1120.6 1461.8,1122.0 1466.5,1124.7 1468.8,1128.3 1470.8,1132.5 1472.8,1138.8 1474.8,1144.2 1476.8,1147.7 1477.8,1148.9 1478.5,1149.3 1479.8,1148.0 1481.9,1143.7 1482.8,1137.3 1483.8,1127.1 1484.5,1119.7 1485.8,1100.1 1486.5,1089.8 1487.8,1068.9 1488.5,1059.9 1489.8,1046.3 1490.5,1041.9 1491.8,1038.6 1492.4,1037.9 1492.8,1038.2 1493.8,1040.1 1495.0,1043.9 1495.8,1049.2 1496.8,1059.2 1497.4,1065.9 1498.8,1082.6 1499.4,1089.8 1500.8,1101.2 1501.8,1107.6 1503.8,1114.0 1505.8,1118.3 1509.8,1123.1 1513.8,1127.3 1516.8,1132.6 1518.8,1136.6 1520.8,1142.0 1521.8,1144.1 1522.4,1144.7 1523.8,1143.9 1525.8,1141.6 1526.8,1136.6 1527.8,1128.7 1528.8,1118.7 1529.8,1104.3 1530.4,1095.8 1530.8,1088.9 1531.8,1072.3 1532.4,1063.9 1533.8,1046.2 1534.4,1041.9 1535.8,1038.8 1536.4,1038.3 1536.8,1038.9 1537.8,1041.9 1538.8,1046.3 1539.8,1057.0 1540.7,1069.8 1541.8,1085.6 1542.7,1099.8 1543.8,1114.8 1544.7,1125.7 1545.8,1133.2 1546.8,1138.3 1547.3,1139.7 1548.8,1139.0 1550.3,1137.7 1551.8,1133.8 1553.8,1125.9 1555.8,1115.7 1556.8,1109.6 1557.8,1103.1 1558.8,1096.2 1559.8,1088.4 1560.8,1080.1 1561.8,1071.2 1562.8,1061.3 1563.8,1051.1 1564.8,1040.2 1565.8,1028.6 1566.8,1017.0 1567.8,1006.5 1568.8,996.5 1569.8,985.5 1570.3,979.4 1570.8,970.2 1571.8,949.4 1572.3,939.5 1572.8,928.8 1573.8,908.5 1574.3,899.6 1574.8,890.7 1575.8,874.9 1576.8,860.5 1577.8,849.1 1578.8,838.7 1579.7,829.7 1580.8,816.7 1581.8,805.2 1582.8,794.3 1583.8,785.2 1584.8,777.1 1585.8,769.7 1586.8,762.7 1587.8,756.7 1589.8,746.0 1591.2,739.9 1592.8,735.6 1594.2,732.9 1595.8,732.1 1596.8,732.0 1597.8,732.8 1599.2,734.9 1599.8,736.8 1601.8,747.3 1602.8,754.8 1603.8,764.9 1604.8,775.7 1605.8,785.8 1606.8,795.8 1607.8,805.8 1608.8,815.8 1609.8,825.8 1610.8,835.8 1611.8,845.8 1612.8,855.8 1613.8,865.8 1614.8,875.8 1615.8,885.8 1616.8,895.8 1617.8,905.7 1618.8,915.6 1619.8,925.6 1620.8,936.5 1621.8,948.0 1622.8,959.4 1623.8,971.8 1624.8,984.4 1625.8,1000.7 1626.8,1019.1 1627.2,1023.9 1628.8,1035.9 1630.8,1046.3 1632.8,1053.1 1635.8,1060.9 1637.8,1066.6 1639.8,1072.7 1641.8,1081.7 1643.8,1092.2 1645.8,1103.0 1647.8,1112.7 1648.8,1115.3 1649.8,1117.3 1651.1,1118.7 1651.8,1117.9 1652.8,1115.7 1654.1,1111.8 1655.8,1101.0 1656.8,1092.5 1657.8,1080.5 1658.8,1064.6 1659.8,1047.2 1660.7,1029.9 1661.8,1002.2 1662.7,979.4 1663.8,951.1 1664.3,939.5 1664.8,927.5 1665.8,905.4 1666.8,884.4 1667.8,864.5 1668.8,847.8 1669.8,833.2 1670.8,821.3 1671.8,811.6 1672.8,806.6 1674.8,800.5 1677.8,794.5 1679.0,791.8 1680.8,785.4 1682.0,779.8 1683.8,768.1 1684.8,761.3 1686.8,749.7 1688.0,744.9 1689.8,743.2 1690.6,742.9 1691.8,746.6 1693.8,758.7 1694.8,766.9 1695.8,777.3 1696.8,787.9 1697.8,798.0 1698.8,808.0 1699.8,818.0 1700.8,828.0 1701.8,838.0 1702.8,848.0 1703.8,858.1 1704.8,868.3 1705.8,878.1 1706.8,886.6 1707.8,894.6 1708.8,902.3 1709.8,909.9 1710.8,917.2 1711.8,924.4 1712.8,931.5 1713.8,938.4 1714.8,944.7 1716.8,953.5 1718.8,960.9 1720.8,967.0 1722.8,973.0 1724.8,981.3 1725.9,985.4 1727.8,989.2 1728.9,990.4 1729.8,988.2 1731.5,979.4 1732.8,961.2 1733.5,949.5 1734.8,927.1 1735.5,915.5 1736.8,897.5 1737.5,889.6 1738.8,879.4 1739.5,876.6 1740.8,877.6 1741.5,878.6 1742.8,888.5 1743.5,895.6 1744.8,913.5 1745.5,923.5 1746.8,943.7 1747.8,958.4 1748.8,971.6 1749.8,983.3 1750.3,987.4 1751.8,994.5 1752.8,997.8 1753.5,999.3 1755.8,1001.7 1757.8,1003.0 1758.8,1003.3 1759.8,1002.9 1761.8,1000.7 1762.8,999.3 1764.8,993.7 1765.8,991.4 1767.8,990.1 1768.8,989.8 1769.8,990.8 1770.8,992.7 1771.8,995.4 1772.8,1001.8 1773.8,1011.0 1774.8,1019.8 1775.8,1027.0 1776.8,1033.9 1777.8,1039.9 1779.8,1048.7 1780.8,1051.9 1782.8,1055.5 1783.8,1056.8 1784.8,1057.5 1790.8,1056.9 1792.8,1057.7 1795.8,1059.9 1799.8,1065.9 1802.8,1068.0 1803.8,1068.2 1804.8,1067.8 1807.8,1064.8 1810.8,1059.3 1811.8,1057.8 1816.7,1054.3 1819.8,1051.9 1820.8,1050.7 1821.8,1047.6 1823.3,1039.9 1824.7,1020.0 1825.8,987.3 1826.1,979.4 1826.8,967.3 1827.8,953.1 1828.8,942.5 1829.8,934.7 1830.1,933.5 1831.8,931.9 1832.7,931.5 1833.8,933.7 1835.3,939.5 1836.8,959.2 1837.3,965.4 1838.8,980.4 1839.3,983.4 1840.8,986.9 1841.3,987.4 1841.8,986.7 1842.8,984.1 1844.1,979.4 1845.8,965.9 1846.7,959.4 1847.8,953.6 1848.8,949.5 1849.3,948.5 1850.8,947.4 1852.0,947.1 1852.8,947.8 1853.8,949.7 1855.2,953.4 1856.8,961.5 1857.8,967.9 1858.8,974.9 1859.8,982.5 1860.6,989.4 1861.8,1001.3 1862.8,1012.1 1863.6,1020.0 1864.8,1028.6 1865.8,1035.2 1867.8,1045.5 1868.8,1049.5 1869.8,1052.2 1871.8,1054.5 1872.6,1054.9 1873.8,1053.9 1875.6,1050.9 1876.8,1044.8 1878.0,1038.9 1879.8,1036.3 1881.0,1035.5 1881.8,1037.0 1882.8,1040.3 1884.8,1049.4 1886.8,1061.4 1887.8,1068.5 1888.8,1075.4 1889.8,1083.6 1890.7,1090.0 1891.8,1096.7 1893.8,1106.3 1895.8,1112.9 1898.2,1118.8 1900.8,1122.5 1901.8,1123.5 1902.6,1123.8 1903.8,1123.4 1906.3,1121.3 1907.8,1116.8 1909.4,1108.8 1910.8,1096.4 1911.3,1090.0 1911.8,1081.2 1912.8,1061.7 1913.3,1050.4 1913.8,1036.8 1914.8,1001.7 1915.8,952.6 1916.3,900.0 1916.8,880.2 1917.3,860.4 1917.8,838.4 1918.3,810.3 1918.8,785.5 1919.2,760.1 1919.8,713.0 1920.8,680.0 1921.6,640.0 1922.8,613.9 1923.5,600.0 1923.8,592.7 1924.8,567.4 1925.8,545.0 1926.6,533.0 1927.6,545.0 1928.8,565.0 1929.8,590.0 1930.2,600.0 1930.8,612.3 1931.8,632.6 1932.1,640.0 1932.8,667.9 1933.1,680.0 1933.8,702.9 1934.0,710.0 1934.8,742.3 1935.3,760.1 1935.8,775.2 1936.8,800.3 1937.1,810.3 1937.8,836.3 1938.4,860.4 1938.8,874.1 1939.8,904.6 1940.8,921.7 1941.8,934.3 1942.8,950.8 1943.8,968.4 1944.3,975.2 1945.8,988.3 1946.8,995.2 1947.8,1000.8 1949.8,1007.9 1951.8,1013.8 1954.8,1021.3 1957.8,1028.7 1960.8,1036.2 1963.8,1043.8 1966.5,1050.4 1969.8,1057.4 1970.9,1059.1 1973.8,1062.2 1975.2,1062.9 1979.8,1063.0 1981.8,1063.9 1984.4,1065.9 1985.8,1068.4 1987.8,1073.0 1989.8,1078.8 1990.3,1079.8 1992.8,1081.7 1994.3,1082.2 1996.8,1081.4 1999.3,1079.8 2000.8,1078.0 2003.8,1072.8 2006.8,1066.3 2009.3,1059.9 2011.8,1051.4 2013.8,1043.9 2015.8,1035.8 2017.3,1029.9 2019.8,1020.8 2021.8,1014.4 2023.8,1008.7 2025.3,1006.0 2031.3,1004.3 2037.8,1003.1 2038.8,1002.5 2040.8,999.7 2043.8,994.2 2046.8,986.8 2048.8,982.2 2051.8,976.7 2053.2,973.4 2054.8,966.9 2056.2,959.4 2057.8,945.3 2058.8,935.5 2059.8,924.9 2060.8,914.8 2061.8,907.8 2062.8,902.4 2063.8,899.2 2064.8,897.9 2065.8,897.2 2066.8,898.4 2068.2,901.6 2068.8,904.8 2069.8,912.3 2070.8,919.5 2071.8,926.3 2073.2,933.5 2074.8,936.3 2075.8,937.6 2077.2,938.5 2082.8,938.4 2087.1,937.1 2088.8,937.8 2093.8,941.2 2094.8,941.4 2095.8,940.1 2097.5,935.5 2098.8,920.5 2099.5,909.5 2100.8,883.4 2101.5,869.6 2102.8,850.5 2103.6,840.4 2104.8,827.8 2105.6,820.3 2106.8,809.4 2107.8,803.7 2108.6,801.3 2109.8,805.0 2110.8,810.3 2111.8,817.9 2112.8,826.7 2113.8,836.9 2114.8,850.0 2115.8,865.8 2116.7,879.6 2117.8,897.0 2118.8,911.9 2119.8,924.7 2120.8,936.7 2121.8,947.1 2122.8,954.7 2123.8,960.9 2125.1,967.4 2126.8,973.6 2128.6,978.4"/>
<polyline class="curve" stroke="#37AD6B" points="265.8,697.4 271.8,698.0 277.8,698.4 283.8,698.5 289.8,698.1 295.8,697.8 299.8,697.7 305.8,699.1 309.9,699.8 316.8,699.5 322.8,699.5 328.8,700.1 334.8,701.0 340.8,701.8 346.8,702.8 352.8,703.6 358.8,703.4 364.8,702.5 367.8,702.6 373.8,704.3 379.8,706.3 385.8,707.4 391.8,708.5 397.8,710.3 403.8,711.6 407.8,712.0 413.8,711.1 419.8,709.5 425.8,709.6 431.8,709.7 435.8,707.6 439.8,702.3 442.8,698.8 444.4,697.7 450.8,697.1 455.8,696.7 461.7,694.2 463.8,691.9 467.8,686.5 470.8,683.1 471.8,682.4 472.8,682.1 474.8,683.2 476.9,685.1 477.8,686.8 480.8,695.0 483.8,699.7 484.8,700.7 485.8,701.1 491.8,699.8 497.8,700.1 503.0,700.3 504.8,699.6 509.8,696.1 514.8,691.9 516.8,689.7 520.3,684.2 522.8,678.6 525.8,671.6 527.8,667.2 529.0,665.1 531.8,662.0 533.8,660.5 534.4,660.3 536.8,661.2 539.8,663.4 543.8,669.7 547.8,676.0 550.8,679.9 555.0,684.2 559.8,689.9 561.8,691.8 565.8,693.9 566.9,694.2 569.8,693.3 572.8,691.8 576.8,688.9 577.8,688.5 579.8,689.2 582.1,690.7 583.8,693.1 586.8,698.7 589.8,704.0 590.8,705.5 594.8,708.9 600.8,711.5 606.8,713.2 612.8,715.3 617.9,716.7 624.8,717.2 630.8,717.5 636.8,717.9 642.8,718.6 648.8,719.2 654.8,719.8 660.8,720.2 666.8,720.2 673.8,720.2 679.8,720.2 685.8,720.1 691.8,720.0 697.8,719.8 703.8,718.4 709.8,717.1 715.8,716.8 721.8,717.3 727.8,717.7 733.8,717.9 739.8,718.0 745.8,718.0 751.8,717.7 757.8,717.3 763.8,716.8 769.8,716.3 775.8,717.2 781.8,718.7 787.8,718.8 792.8,718.4 798.8,716.8 804.8,717.2 810.8,717.6 816.8,716.8 822.8,717.9 828.8,719.0 834.8,719.3 840.8,718.9 845.8,718.5 851.8,719.2 857.8,718.9 862.0,718.5 868.8,720.1 871.8,721.2 875.8,723.7 877.1,724.1 883.6,724.1 884.8,723.6 888.8,719.7 890.2,718.9 895.8,718.5 897.8,719.3 901.8,721.6 903.2,722.0 909.8,721.3 915.8,720.2 921.8,719.8 927.8,720.2 933.8,721.1 939.8,719.0 942.2,718.5 946.8,719.8 952.8,718.1 955.8,718.7 959.8,720.3 964.8,724.3 966.1,725.0 972.8,726.2 974.8,726.3 976.8,725.6 979.8,724.1 981.3,723.7 987.8,725.8 989.9,726.3 991.8,725.5 994.3,723.7 997.8,718.6 998.8,718.1 1003.8,719.5 1007.3,721.1 1008.8,722.5 1009.5,722.8 1009.8,722.5 1011.8,717.7 1012.8,716.3 1014.8,717.3 1018.8,720.5 1021.8,723.8 1024.8,728.8 1025.8,729.8 1031.8,731.0 1033.3,731.1 1034.8,730.2 1038.8,725.8 1039.8,725.0 1044.8,722.7 1046.8,722.4 1052.8,724.5 1055.0,725.0 1061.8,723.5 1063.8,723.3 1069.8,724.6 1072.8,725.0 1078.8,723.9 1081.0,723.7 1082.8,724.2 1086.8,726.6 1088.8,727.1 1090.8,726.2 1094.8,723.3 1096.2,722.8 1102.8,723.9 1104.9,724.1 1105.8,723.8 1109.8,720.2 1111.4,719.3 1117.8,721.1 1120.1,721.5 1121.8,720.6 1126.6,715.9 1130.8,713.2 1133.1,712.4 1133.8,712.8 1135.8,715.2 1137.8,718.1 1138.8,719.2 1139.8,719.8 1143.9,720.2 1144.8,719.9 1148.8,716.3 1150.5,715.4 1156.8,716.3 1162.8,719.9 1168.8,722.2 1174.8,724.0 1180.8,725.5 1186.8,726.0 1192.8,726.3 1198.8,726.5 1204.8,726.7 1210.8,725.1 1213.8,724.6 1219.8,725.4 1223.8,726.4 1227.8,727.9 1233.8,728.0 1237.8,728.1 1240.0,728.9 1246.8,728.3 1252.8,727.7 1258.8,727.1 1264.8,725.4 1267.9,723.9 1271.8,720.5 1273.9,718.0 1276.8,712.6 1277.9,710.0 1279.8,703.9 1281.8,695.8 1283.8,683.3 1284.8,675.9 1285.8,668.2 1286.8,659.8 1287.8,650.8 1288.8,641.5 1289.8,632.3 1290.8,623.0 1291.8,613.5 1292.8,604.3 1293.8,596.2 1294.8,589.8 1295.8,584.1 1296.9,579.6 1298.8,576.1 1299.9,575.2 1300.8,576.0 1302.9,579.6 1303.8,583.9 1304.8,590.4 1305.8,597.2 1306.8,604.3 1307.8,611.8 1308.8,619.2 1309.8,626.2 1310.8,633.1 1311.8,639.2 1313.8,647.9 1314.8,651.5 1317.8,657.8 1318.8,659.4 1323.8,663.4 1327.8,668.5 1331.8,674.7 1335.8,681.4 1339.8,686.9 1343.8,691.5 1348.8,696.5 1353.8,701.3 1354.8,702.0 1355.8,702.3 1356.8,702.0 1358.8,700.4 1359.8,699.2 1360.8,696.4 1362.7,687.4 1363.8,674.2 1364.7,659.4 1365.8,638.8 1366.7,619.5 1367.8,596.7 1368.8,574.4 1369.8,547.4 1370.6,528.8 1371.5,516.3 1372.6,503.8 1373.8,500.7 1374.9,499.4 1375.8,501.8 1376.2,503.8 1377.3,516.3 1378.4,528.8 1378.8,535.9 1379.8,560.3 1380.3,571.6 1380.8,581.1 1381.8,598.6 1382.8,615.0 1383.8,630.4 1384.8,645.0 1385.7,655.4 1386.8,664.1 1387.8,670.5 1388.8,673.4 1391.7,673.4 1392.8,668.7 1393.8,661.6 1394.7,655.4 1395.8,646.6 1396.8,641.2 1397.8,639.6 1399.1,638.5 1399.8,639.1 1400.8,640.7 1402.0,643.5 1402.8,647.8 1403.8,656.1 1404.6,663.4 1405.8,673.9 1406.8,683.1 1407.6,689.4 1409.8,699.2 1411.6,705.3 1414.8,710.8 1418.8,716.3 1420.8,718.5 1422.6,719.6 1423.8,719.0 1425.8,717.3 1428.8,713.7 1431.8,707.8 1433.8,703.5 1435.8,698.4 1436.6,697.4 1437.8,699.0 1440.6,706.0 1442.8,711.7 1445.8,718.5 1446.8,720.3 1447.5,721.0 1448.8,720.2 1451.8,716.5 1454.8,710.2 1457.8,702.6 1459.8,696.3 1461.8,689.1 1462.8,687.1 1464.8,685.2 1466.5,684.4 1467.8,685.8 1469.5,689.4 1470.8,695.4 1471.8,700.7 1472.5,703.3 1474.8,707.0 1475.8,708.0 1476.5,708.3 1477.8,706.4 1479.5,701.3 1480.8,688.3 1481.5,679.4 1482.8,652.5 1483.5,639.5 1484.8,622.9 1485.8,608.7 1486.4,600.2 1486.8,593.5 1487.8,578.8 1488.8,568.2 1489.8,561.4 1490.8,567.1 1491.7,575.6 1492.8,592.0 1493.3,600.2 1493.8,606.2 1494.8,619.3 1495.6,630.3 1496.8,646.1 1497.8,659.0 1498.8,669.3 1499.8,678.5 1500.8,685.5 1502.8,695.5 1503.4,697.4 1505.8,699.8 1508.8,701.4 1513.4,702.3 1514.8,703.4 1518.8,708.2 1522.8,714.5 1523.8,715.6 1524.4,716.0 1525.8,715.4 1527.4,714.0 1527.8,712.4 1528.8,705.7 1529.8,698.3 1530.4,695.4 1531.8,691.8 1533.4,689.4 1536.4,688.4 1536.8,688.7 1537.8,690.1 1539.3,693.4 1540.8,699.9 1542.3,707.3 1544.8,713.4 1546.8,720.4 1548.8,725.0 1549.8,726.5 1550.3,726.9 1551.8,726.5 1555.3,723.9 1556.8,721.8 1558.8,717.7 1560.3,714.0 1561.8,707.1 1563.3,699.3 1564.8,693.3 1566.8,685.8 1568.8,677.6 1570.8,666.3 1571.8,659.6 1572.8,652.7 1573.8,645.7 1574.8,638.2 1575.8,630.6 1576.8,623.0 1577.8,615.4 1578.8,607.6 1579.8,599.8 1580.8,592.6 1581.8,586.5 1583.8,576.2 1585.2,569.6 1586.8,563.4 1588.8,556.7 1590.8,553.3 1592.8,550.9 1594.2,550.1 1594.8,550.4 1595.8,551.5 1598.2,555.7 1599.8,561.6 1601.2,567.6 1602.8,573.4 1604.2,577.6 1605.8,579.8 1609.2,583.6 1611.8,589.3 1613.2,593.6 1614.8,604.2 1615.8,612.4 1616.8,621.1 1617.8,631.0 1618.8,640.4 1619.8,647.8 1620.8,654.3 1621.8,660.3 1623.2,667.4 1624.8,673.4 1626.8,679.6 1629.8,687.0 1632.8,692.8 1635.8,698.4 1638.8,703.7 1641.8,708.2 1645.1,712.0 1647.8,718.1 1650.1,722.9 1651.8,724.8 1653.1,725.5 1653.8,725.1 1654.8,724.1 1657.1,720.0 1657.8,716.5 1658.8,709.4 1659.8,700.8 1660.8,691.8 1661.8,682.6 1662.8,672.5 1663.8,662.2 1664.8,652.1 1665.8,641.8 1666.8,632.0 1667.8,622.9 1668.8,613.9 1669.8,606.8 1670.1,605.6 1671.8,601.7 1674.1,598.6 1679.0,596.6 1679.8,595.5 1682.8,588.2 1684.8,581.9 1686.8,576.1 1688.8,573.5 1690.8,571.8 1691.4,571.6 1692.8,572.7 1696.0,577.6 1698.8,586.0 1700.8,591.6 1703.8,598.6 1706.8,607.5 1708.8,614.9 1710.8,624.0 1712.8,633.6 1714.8,642.9 1716.8,648.6 1718.9,653.4 1722.8,659.2 1724.8,664.3 1725.9,666.4 1727.8,667.2 1728.9,667.4 1729.8,666.5 1731.9,661.4 1733.8,650.2 1734.8,642.1 1735.8,634.1 1736.8,629.1 1737.9,625.5 1739.8,624.2 1740.9,623.9 1741.8,625.0 1743.9,629.5 1745.8,632.5 1746.9,633.5 1747.8,632.7 1749.5,629.5 1750.8,618.6 1751.5,613.5 1752.8,609.2 1753.8,607.0 1754.3,606.5 1754.8,606.9 1755.8,608.2 1757.5,611.5 1758.8,619.6 1759.8,627.2 1760.8,636.1 1761.8,644.9 1762.2,647.5 1763.8,650.6 1765.8,653.4 1770.8,658.4 1772.8,662.3 1774.8,667.4 1776.8,675.2 1778.8,683.4 1780.8,691.4 1782.8,698.4 1783.8,701.4 1786.8,706.9 1790.8,711.8 1792.8,713.3 1797.8,714.8 1798.8,714.9 1801.8,713.9 1804.8,712.3 1809.7,707.3 1814.8,703.3 1816.8,700.9 1819.8,695.5 1820.8,693.1 1822.8,684.4 1823.8,678.8 1824.8,670.3 1825.8,661.6 1827.8,651.3 1828.8,648.3 1830.8,646.1 1832.1,645.5 1832.8,646.1 1833.8,647.8 1835.3,651.5 1836.8,660.6 1837.8,665.8 1839.8,670.5 1840.8,671.4 1844.8,670.3 1845.8,668.5 1847.8,662.5 1848.8,658.7 1850.8,646.4 1851.6,639.5 1852.8,623.0 1853.6,609.5 1854.8,592.5 1855.6,579.6 1856.8,558.7 1857.6,543.7 1858.8,524.3 1859.6,511.8 1860.8,497.3 1861.6,489.8 1862.8,484.8 1863.8,482.0 1864.2,481.4 1864.8,482.4 1865.8,486.0 1866.8,491.2 1867.8,501.6 1868.6,511.8 1869.8,530.2 1870.6,543.7 1871.8,566.1 1872.6,579.6 1873.8,592.9 1874.6,599.6 1875.8,605.4 1877.6,611.5 1879.8,614.9 1882.8,618.9 1885.8,625.8 1888.8,631.8 1890.8,634.7 1895.8,637.6 1899.8,638.7 1901.8,640.8 1905.8,645.8 1908.8,648.4 1910.6,649.2 1910.8,648.9 1911.8,645.5 1912.9,640.2 1913.8,632.8 1914.8,618.6 1915.8,600.1 1916.8,577.7 1917.6,560.0 1918.6,535.3 1919.4,515.3 1919.8,502.9 1920.1,495.2 1920.8,478.6 1921.8,463.9 1922.5,455.1 1923.8,435.1 1924.8,423.7 1925.8,418.7 1926.3,417.5 1926.8,418.7 1927.8,423.9 1928.8,435.1 1929.8,452.0 1930.8,465.3 1931.6,475.2 1932.8,491.1 1933.8,504.5 1934.6,515.3 1935.8,531.6 1936.8,541.5 1937.8,549.3 1938.6,555.4 1939.8,563.2 1940.8,569.5 1941.8,576.3 1942.8,584.0 1943.6,590.1 1944.8,596.6 1946.8,606.5 1948.8,614.2 1950.2,618.1 1952.8,622.4 1954.8,624.8 1959.8,628.8 1960.8,630.2 1963.8,636.7 1965.8,642.2 1967.8,649.4 1968.2,650.2 1969.8,651.6 1970.4,651.9 1971.8,650.9 1974.4,647.5 1975.8,643.7 1977.8,637.2 1980.8,628.9 1982.4,625.5 1984.8,622.5 1986.4,621.5 1992.8,621.5 1996.3,621.5 1997.8,620.2 2000.8,614.6 2002.8,609.2 2004.8,601.8 2005.8,596.9 2006.8,590.6 2007.8,583.4 2008.8,575.2 2009.8,565.4 2010.8,554.9 2011.8,544.2 2012.8,533.0 2013.8,521.5 2014.8,509.7 2015.8,497.5 2016.8,485.4 2017.8,474.3 2018.8,463.7 2019.8,454.0 2020.8,446.2 2021.8,439.5 2023.3,431.9 2024.8,428.1 2025.8,426.0 2026.8,424.7 2027.3,424.3 2027.8,424.7 2028.8,426.1 2031.3,431.9 2032.8,443.0 2033.8,452.1 2034.8,460.3 2035.8,468.3 2036.8,476.3 2037.8,484.3 2038.8,492.5 2039.8,500.5 2040.8,507.8 2041.8,514.8 2042.8,521.3 2044.8,530.8 2046.8,538.3 2048.8,544.0 2049.8,546.4 2051.2,548.7 2054.2,549.7 2054.8,549.3 2055.8,548.0 2058.8,542.3 2060.8,537.1 2061.8,535.5 2063.8,534.2 2065.2,533.7 2065.8,534.1 2068.2,537.7 2070.8,543.9 2072.2,546.7 2074.8,549.4 2077.2,550.7 2083.1,548.7 2088.8,544.9 2093.8,541.1 2095.1,539.7 2096.8,536.4 2099.1,529.7 2100.8,518.7 2101.8,511.8 2102.8,505.0 2104.1,497.8 2105.8,493.0 2107.1,490.8 2110.1,489.8 2110.8,490.5 2113.1,495.8 2114.8,502.5 2116.8,510.5 2118.8,517.9 2120.1,521.7 2122.8,527.2 2125.8,531.6 2128.8,534.7 2130.0,535.7"/>
</g>
<g id="ticklabels" class="tick">
<text x="224.9" y="1363.3" text-anchor="end">0.00</text>
<text x="224.9" y="1052.4" text-anchor="end">0.05</text>
<text x="224.9" y="741.5" text-anchor="end">0.10</text>
<text x="224.9" y="430.6" text-anchor="end">0.15</text>
<text x="224.9" y="119.7" text-anchor="end">0.20</text>
<text x="488.0" y="1497.3" text-anchor="middle">3000</text>
<text x="803.6" y="1497.3" text-anchor="middle">2500</text>
<text x="1119.2" y="1497.3" text-anchor="middle">2000</text>
<text x="1434.8" y="1497.3" text-anchor="middle">1500</text>
<text x="1750.4" y="1497.3" text-anchor="middle">1000</text>
<text x="2066.0" y="1497.3" text-anchor="middle">500</text>
</g>
<text class="axt" x="930.6" y="1600.0" style="letter-spacing:-0.575px">Wavenumber, cm-1</text>
<text class="axt" transform="translate(64.3 898.8) rotate(-90)" style="letter-spacing:-0.25px">Absorbance</text>
<text transform="translate(1386.9 492.3) rotate(-90)" style="font-size:48.5px;letter-spacing:-0.22px">Pyridine ring band</text>
<text transform="translate(1503.1 544.8) rotate(-90)" style="font-size:54.65px">C-N</text>
<g id="legend" class="leg">
<line x1="1534" y1="110.4" x2="1657" y2="110.4" stroke="#37AD6B" stroke-width="7"/>
<text x="1671.6" y="128.3">PET TeMs-g-P4VPy (16%)</text>
<line x1="1534" y1="177.2" x2="1657" y2="177.2" stroke="#1A6FDF" stroke-width="7"/>
<text x="1671.6" y="195.0">PET TeMs-g-P4VPy (10%)</text>
<line x1="1534" y1="243.9" x2="1657" y2="243.9" stroke="#F14040" stroke-width="7"/>
<text x="1671.6" y="261.6">PET TeMs-g-P4VPy (3%)</text>
<line x1="1534" y1="310.7" x2="1657" y2="310.7" stroke="#515151" stroke-width="7"/>
<text x="1671.6" y="328.2">Pristine PET TeMs</text>
</g>
</svg>
</body>
</html>
